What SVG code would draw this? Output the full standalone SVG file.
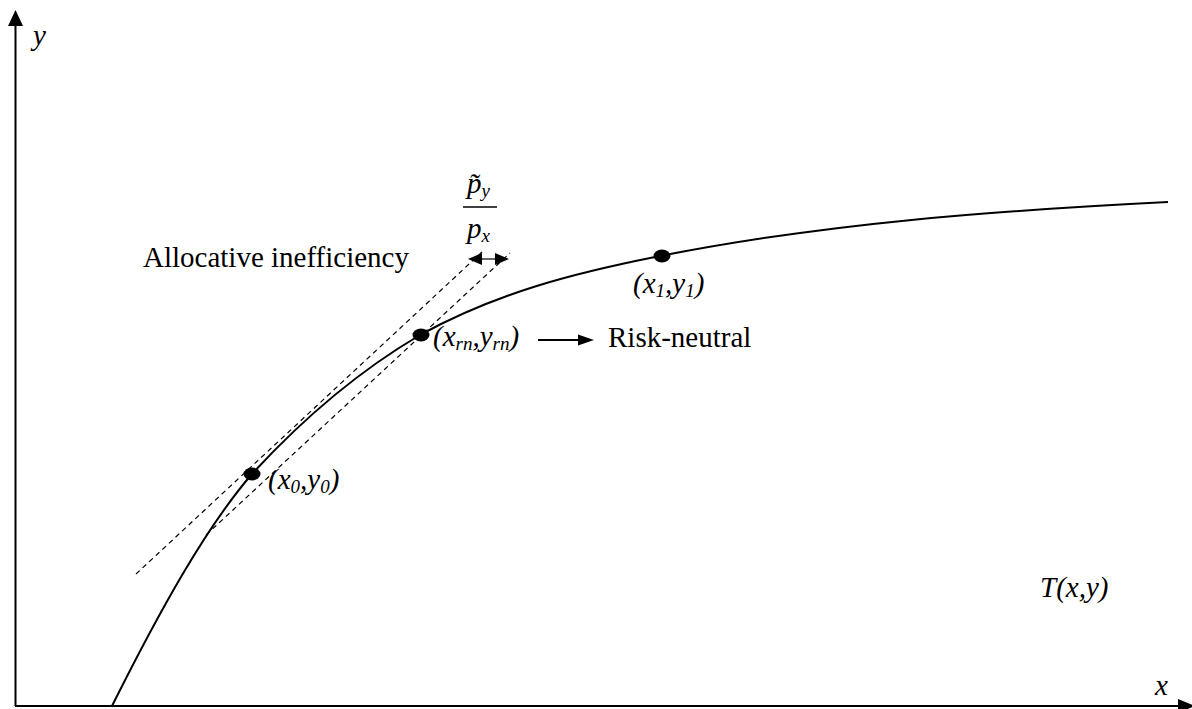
<svg xmlns="http://www.w3.org/2000/svg" width="1192" height="709" viewBox="0 0 1192 709">
<style>
.t{font-family:"Liberation Serif","Times New Roman",serif;font-size:29px;fill:#000}
.i{font-style:italic}
.s{font-size:19px}
.ax{stroke:#000;stroke-width:2;fill:none}
.dash{stroke:#000;stroke-width:1.2;stroke-dasharray:5,4;fill:none}
.dot{fill:#000}
</style>
<rect width="1192" height="709" fill="#fff"/>
<g id="axes">
<line class="ax" x1="15.5" y1="706" x2="15.5" y2="22"/>
<polygon points="15.5,10 8,26 23,26" fill="#000"/>
<line class="ax" x1="15" y1="706" x2="1180" y2="706"/>
<polygon points="1195,706 1178,699 1178,713" fill="#000"/>
<text class="t i" x="33" y="45">y</text>
<text class="t i" x="1155" y="695">x</text>
</g>
<g id="connectors">
<path id="frontier" class="ax" d="M112,706 C158.7,612.6 205.3,528 252,474 C308,413 364,368 420,335 C498.3,291.9 576.7,272.7 655,257 C826,222.8 997,210.6 1168,202"/>
<line class="dash" x1="136" y1="574" x2="482" y2="252"/>
<line class="dash" x1="206" y1="535" x2="510" y2="253"/>
<line stroke="#000" stroke-width="1.2" x1="478" y1="259" x2="498" y2="259"/>
<polygon points="468,259 482,253 482,265" fill="#000"/>
<polygon points="509,259 495,253 495,265" fill="#000"/>
<line stroke="#000" stroke-width="2" x1="538" y1="340" x2="580" y2="340"/>
<polygon points="594,340 578,334.5 578,345.5" fill="#000"/>
</g>
<g id="node-x0">
<ellipse class="dot" cx="252" cy="474" rx="8.5" ry="6.5"/>
<text class="t i" x="268" y="489">(x<tspan class="s" dy="4">0</tspan><tspan dy="-4">,y</tspan><tspan class="s" dy="4">0</tspan><tspan dy="-4">)</tspan></text>
</g>
<g id="node-xrn">
<ellipse class="dot" cx="421" cy="335" rx="8.5" ry="6.5"/>
<text class="t i" x="433" y="346">(x<tspan class="s" dy="4">rn</tspan><tspan dy="-4">,y</tspan><tspan class="s" dy="4">rn</tspan><tspan dy="-4">)</tspan></text>
</g>
<g id="node-x1">
<ellipse class="dot" cx="662" cy="256" rx="8.5" ry="6.5"/>
<text class="t i" x="633" y="293">(x<tspan class="s" dy="4">1</tspan><tspan dy="-4">,y</tspan><tspan class="s" dy="4">1</tspan><tspan dy="-4">)</tspan></text>
</g>
<g id="label-risk">
<text class="t" x="608" y="347">Risk-neutral</text>
</g>
<g id="label-alloc">
<text class="t" x="143" y="267">Allocative inefficiency</text>
</g>
<g id="label-ratio">
<text class="t i" x="467" y="193">p̃<tspan class="s" dy="4">y</tspan></text>
<line stroke="#000" stroke-width="1.5" x1="463" y1="207" x2="497" y2="207"/>
<text class="t i" x="467" y="238">p<tspan class="s" dy="4">x</tspan></text>
</g>
<g id="label-T">
<text class="t i" x="1040" y="597">T(x,y)</text>
</g>
</svg>
